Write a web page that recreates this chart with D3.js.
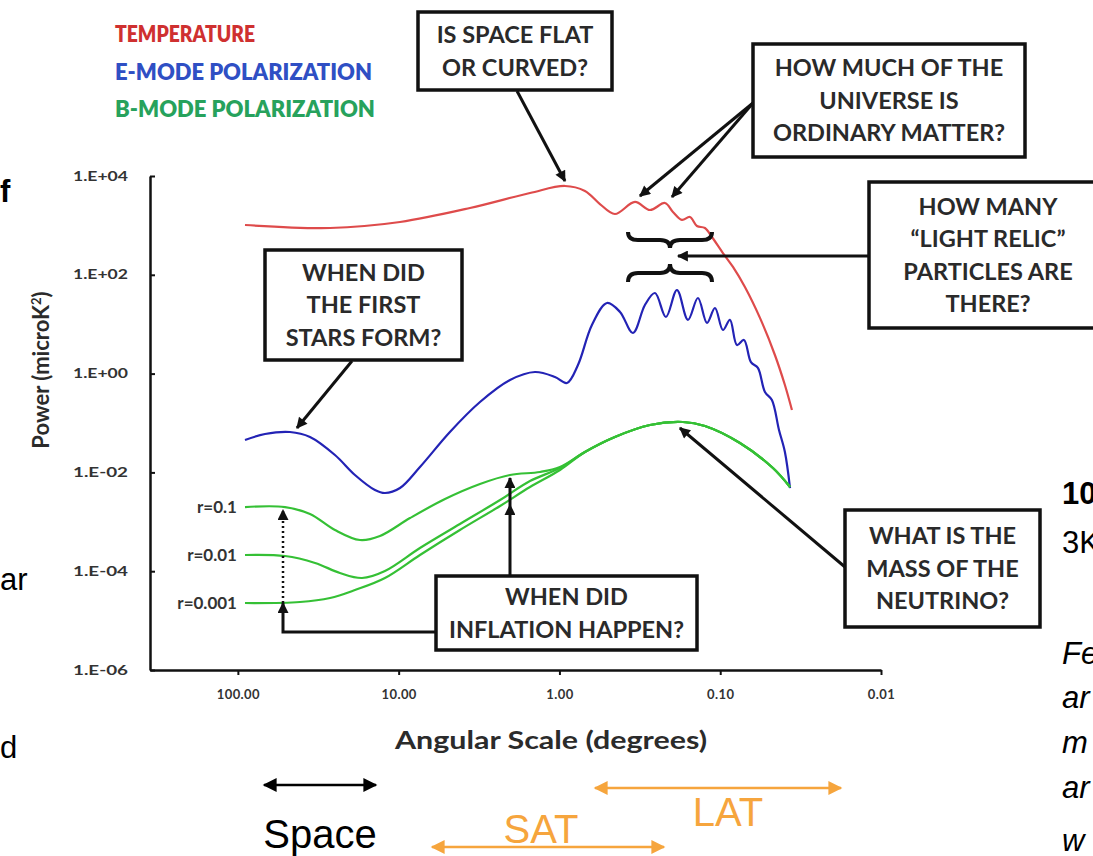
<!doctype html>
<html lang="en">
<head>
<meta charset="utf-8">
<title>CMB power spectrum</title>
<script src="https://cdn.jsdelivr.net/npm/d3@7"></script>
<style>
  body { margin: 0; background: #fff; }
  svg text { font-family: Lato, "Open Sans", sans-serif; }
  .frag { font-family: "Liberation Sans", Arial, sans-serif !important; fill: #000; }
</style>
</head>
<body>
<div id="chart"></div>
<script>
// values are [angular scale (degrees), power (microK^2)]
var temperature = [
  [90.3, 1019], [26.7, 886], [9.81, 1172], [3.60, 2250], [1.525, 4530], [0.924, 6280],
  [0.694, 4970], [0.560, 2710], [0.452, 1700], [0.339, 2980], [0.2735, 2050], [0.2207, 2840],
  [0.1968, 1870], [0.1730, 1290], [0.1543, 1480], [0.1396, 973], [0.1245, 886], [0.1126, 582],
  [0.0962, 276], [0.0833, 144], [0.0702, 56.6], [0.0566, 13.4], [0.0457, 2.38], [0.0396, 0.587],
  [0.0358, 0.183]
];
var eMode = [
  [90.3, 0.0453], [67.8, 0.0599], [47.4, 0.0658], [35.6, 0.0521], [24.9, 0.0225], [18.7, 0.00886],
  [14.04, 0.0044], [12.17, 0.00383], [9.81, 0.00483], [7.37, 0.01286], [4.80, 0.0658], [3.12, 0.266],
  [2.03, 0.742], [1.42, 1.077], [1.066, 0.853], [0.898, 0.645], [0.767, 1.49], [0.628, 9.63],
  [0.506, 26.9], [0.420, 17.7], [0.349, 6.64], [0.294, 24.5], [0.2546, 42.8], [0.2176, 14.0],
  [0.1858, 49.2], [0.1587, 12.2], [0.1376, 33.9], [0.1209, 10.6], [0.1078, 21.3], [0.0962, 7.63],
  [0.0870, 12.2], [0.0787, 3.79], [0.0712, 4.79], [0.0644, 1.7], [0.0583, 1.3], [0.0527, 0.424],
  [0.0477, 0.292], [0.0431, 0.0722], [0.0396, 0.0259], [0.0368, 0.00483]
];
// B-mode curves for three tensor-to-scalar ratios, large angular scales
var bModeR01 = [
  [90.3, 0.00199], [50.9, 0.00199], [35.6, 0.00144], [24.9, 0.000682], [17.4, 0.000428],
  [13.07, 0.000516], [8.50, 0.00119], [5.15, 0.00289], [3.12, 0.00582], [2.03, 0.00886],
  [1.32, 0.0102], [0.992, 0.01286]
];
var bModeR001 = [
  [90.3, 0.000213], [50.9, 0.000203], [33.1, 0.000147], [23.2, 0.000092], [16.9, 0.0000729],
  [12.17, 0.000101], [7.37, 0.000295], [4.16, 0.000903], [2.34, 0.00276], [1.525, 0.0067],
  [0.992, 0.01228]
];
var bModeR0001 = [
  [90.3, 0.0000227], [41.1, 0.0000238], [26.7, 0.0000287], [18.7, 0.0000416], [12.17, 0.0000729],
  [7.37, 0.000213], [4.16, 0.000682], [2.34, 0.00209], [1.525, 0.00506], [0.992, 0.01118]
];
// shared lensing-dominated part at small angular scales
var bModeTail = [
  [0.694, 0.0259], [0.452, 0.0521], [0.2735, 0.0911], [0.1706, 0.1047], [0.1245, 0.087],
  [0.0754, 0.0394], [0.0470, 0.01228], [0.0368, 0.00506]
];
var xTicks = [100, 10, 1, 0.1, 0.01];
var yTicks = [1e4, 1e2, 1, 1e-2, 1e-4, 1e-6];
var legendLabels = ["TEMPERATURE", "E-MODE POLARIZATION", "B-MODE POLARIZATION"];
var legendColors = ["#cf3030", "#2f4fc4", "#27a25c"];
var rLabels = ["r=0.1", "r=0.01", "r=0.001"];

var W = 1093, H = 856;
var svg = d3.select("#chart").append("svg").attr("width", W).attr("height", H);

var x = d3.scaleLog().domain([352, 0.01]).range([150, 881]);
var y = d3.scaleLog().domain([1e-6, 1e4]).range([670, 176]);

// arrowheads
var defs = svg.append("defs");
function marker(id, color, len, wid) {
  defs.append("marker").attr("id", id)
    .attr("viewBox", "0 0 10 10").attr("refX", 9).attr("refY", 5)
    .attr("markerUnits", "userSpaceOnUse")
    .attr("markerWidth", len).attr("markerHeight", wid)
    .attr("orient", "auto-start-reverse")
    .append("path").attr("d", "M0,0L10,5L0,10z").attr("fill", color);
}
marker("ah", "#111", 13, 11);
marker("ahBig", "#000", 16, 14);
marker("ahOr", "#f6a53d", 16, 14);

// axes
var yFmt = function (d) {
  var e = Math.round(Math.log10(d));
  return "1.E" + (e < 0 ? "-" : "+") + String(Math.abs(e)).padStart(2, "0");
};
var yAxis = svg.append("g").attr("transform", "translate(150,0)")
  .call(d3.axisLeft(y).tickValues(yTicks).tickFormat(yFmt).tickSizeInner(-5).tickSizeOuter(0).tickPadding(22));
var xAxis = svg.append("g").attr("transform", "translate(0,670)")
  .call(d3.axisBottom(x).tickValues(xTicks).tickFormat(d3.format(".2f")).tickSizeInner(5).tickSizeOuter(0).tickPadding(17));
[yAxis, xAxis].forEach(function (a) {
  a.select(".domain").attr("stroke", "#111").attr("stroke-width", 2.5);
  a.selectAll(".tick line").attr("stroke", "#111").attr("stroke-width", 2);
  a.selectAll(".tick text").attr("fill", "#333").style("font-size", "13px")
    .style("font-weight", 700);
});
yAxis.selectAll(".tick text").attr("textLength", 55).attr("lengthAdjust", "spacingAndGlyphs");
xAxis.selectAll(".tick text").attr("dy", "0.5em").style("letter-spacing", "0.4px");

svg.append("text").attr("x", 551).attr("y", 749).attr("text-anchor", "middle")
  .attr("fill", "#2b2b2b").style("font-size", "25px").style("font-weight", 700)
  .attr("textLength", 312).attr("lengthAdjust", "spacingAndGlyphs")
  .text("Angular Scale (degrees)");
var yt = svg.append("text").attr("transform", "translate(49,370) rotate(-90)")
  .attr("text-anchor", "middle").attr("fill", "#2b2b2b")
  .style("font-size", "22px").style("font-weight", 700);
yt.append("tspan").text("Power (microK");
yt.append("tspan").attr("dy", -8).style("font-size", "13px").text("2");
yt.append("tspan").attr("dy", 8).text(")");

// curves
var line = d3.line().x(function (d) { return x(d[0]); }).y(function (d) { return y(d[1]); })
  .curve(d3.curveCatmullRom.alpha(0.5));
var curves = [
  { data: temperature, color: "#de4b4b" },
  { data: eMode, color: "#2323b5" },
  { data: bModeR01.concat(bModeTail), color: "#35c035" },
  { data: bModeR001.concat(bModeTail), color: "#35c035" },
  { data: bModeR0001.concat(bModeTail), color: "#35c035" }
];
svg.append("g").selectAll("path").data(curves).join("path")
  .attr("d", function (c) { return line(c.data); })
  .attr("fill", "none").attr("stroke", function (c) { return c.color; })
  .attr("stroke-width", 2.2).attr("stroke-linejoin", "round");

// r labels at the start of each B-mode curve
var rStarts = [bModeR01[0], bModeR001[0], bModeR0001[0]];
svg.append("g").selectAll("text").data(rLabels).join("text")
  .attr("x", x(rStarts[0][0]) - 8)
  .attr("y", function (d, i) { return y(rStarts[i][1]); })
  .attr("dy", "0.35em").attr("text-anchor", "end").attr("fill", "#333")
  .style("font-size", "17px").style("font-weight", 700).text(function (d) { return d; });

// legend
svg.append("g").selectAll("text").data(legendLabels).join("text")
  .attr("x", 115).attr("y", function (d, i) { return 42 + i * 37.5; })
  .attr("fill", function (d, i) { return legendColors[i]; })
  .style("font-size", "22px").style("font-weight", 800)
  .attr("textLength", function (d, i) { return [140, 257, 260][i]; })
  .attr("lengthAdjust", "spacingAndGlyphs")
  .text(function (d) { return d; });

// question boxes
var boxes = [
  { x: 418, y: 12, w: 194, h: 78, lines: ["IS SPACE FLAT", "OR CURVED?"] },
  { x: 753, y: 44, w: 272, h: 113, lines: ["HOW MUCH OF THE", "UNIVERSE IS", "ORDINARY MATTER?"] },
  { x: 869, y: 182, w: 238, h: 146, lines: ["HOW MANY", "\u201CLIGHT RELIC\u201D", "PARTICLES ARE", "THERE?"] },
  { x: 265, y: 250, w: 197, h: 110, lines: ["WHEN DID", "THE FIRST", "STARS FORM?"] },
  { x: 436, y: 576, w: 261, h: 74, lines: ["WHEN DID", "INFLATION HAPPEN?"] },
  { x: 845, y: 510, w: 195, h: 117, lines: ["WHAT IS THE", "MASS OF THE", "NEUTRINO?"] }
];

// arrows: from pixel point on a box to a point given in data units (or pixels)
var arrows = [
  { from: [517, 91], to: [0.924, 7920] },
  { from: [753, 103], to: [0.3157, 3935] },
  { from: [753, 103], to: [0.1996, 3758] },
  { from: [869, 256], toPx: [678, 256] },
  { from: [352, 361], to: [42.9, 0.0792] },
  { from: [845, 567], to: [0.178, 0.0792] },
  { from: [510, 576], to: [2.03, 0.00219] },
  { fromData: [2.03, 0.00219], to: [2.03, 0.0077] }
];
var ag = svg.append("g");
arrows.forEach(function (a) {
  var p0 = a.fromData ? [x(a.fromData[0]), y(a.fromData[1])] : a.from;
  var p1 = a.toPx ? a.toPx : [x(a.to[0]), y(a.to[1])];
  ag.append("line").attr("x1", p0[0]).attr("y1", p0[1]).attr("x2", p1[0]).attr("y2", p1[1])
    .attr("stroke", "#111").attr("stroke-width", 3).attr("marker-end", "url(#ah)");
});
// inflation bracket to the r curves on the left
var bx = x(52.4);
ag.append("path")
  .attr("d", "M436,632H" + bx + "V" + y(2.27e-5))
  .attr("fill", "none").attr("stroke", "#111").attr("stroke-width", 3).attr("marker-end", "url(#ah)");
ag.append("line").attr("x1", bx).attr("y1", y(2.27e-5)).attr("x2", bx).attr("y2", y(0.00173))
  .attr("stroke", "#111").attr("stroke-width", 2.5).attr("stroke-dasharray", "2,3")
  .attr("marker-end", "url(#ah)");

// curly braces around the damping tail
function brace(x0, x1, yEnd, h) {
  var m = (x0 + x1) / 2, q = 10, yf = yEnd + h / 2, yt = yEnd + h;
  return "M" + x0 + "," + yEnd + "Q" + x0 + "," + yf + " " + (x0 + q) + "," + yf +
    "L" + (m - q) + "," + yf + "Q" + m + "," + yf + " " + m + "," + yt +
    "Q" + m + "," + yf + " " + (m + q) + "," + yf +
    "L" + (x1 - q) + "," + yf + "Q" + x1 + "," + yf + " " + x1 + "," + yEnd;
}
svg.append("path").attr("d", brace(628, 712, 232, 16))
  .attr("fill", "none").attr("stroke", "#111").attr("stroke-width", 4);
svg.append("path").attr("d", brace(628, 712, 282, -18))
  .attr("fill", "none").attr("stroke", "#111").attr("stroke-width", 4);

var bg = svg.append("g").selectAll("g").data(boxes).join("g");
bg.append("rect").attr("x", function (b) { return b.x; }).attr("y", function (b) { return b.y; })
  .attr("width", function (b) { return b.w; }).attr("height", function (b) { return b.h; })
  .attr("fill", "#fff").attr("stroke", "#111").attr("stroke-width", 3.5);
bg.each(function (b) {
  var g = d3.select(this), lh = 32.5;
  var top = b.y + b.h / 2 - (b.lines.length - 1) * lh / 2;
  g.selectAll("text").data(b.lines).join("text")
    .attr("x", b.x + b.w / 2).attr("y", function (d, i) { return top + i * lh; })
    .attr("dy", "0.36em").attr("text-anchor", "middle").attr("fill", "#2a2a2a")
    .style("font-size", "23.5px").style("font-weight", 700).text(function (d) { return d; });
});

// telescope angular ranges below the axis
var ranges = [
  { label: "Space", color: "#000", y: 785, x0: 262, x1: 378, tx: 320, ty: 848, mk: "ahBig" },
  { label: "LAT", color: "#f6a53d", y: 788, x0: 593, x1: 843, tx: 728, ty: 826, mk: "ahOr" },
  { label: "SAT", color: "#f6a53d", y: 847, x0: 430, x1: 666, tx: 541, ty: 843, mk: "ahOr" }
];
var rg = svg.append("g");
ranges.forEach(function (r) {
  rg.append("line").attr("x1", r.x0 + 2).attr("y1", r.y).attr("x2", r.x1 - 2).attr("y2", r.y)
    .attr("stroke", r.color).attr("stroke-width", 2.5)
    .attr("marker-start", "url(#" + r.mk + ")").attr("marker-end", "url(#" + r.mk + ")");
  rg.append("text").attr("class", "frag").attr("x", r.tx).attr("y", r.ty)
    .attr("text-anchor", "middle").style("fill", r.color).style("font-size", "40px")
    .text(r.label);
});

// fragments of the surrounding slide text
var frags = [
  { t: "f", x: 0, y: 202, w: 700, it: false },
  { t: "ar", x: 0, y: 590, w: 400, it: false },
  { t: "d", x: 0, y: 758, w: 400, it: false },
  { t: "10", x: 1062, y: 504, w: 700, it: false },
  { t: "3K", x: 1062, y: 553, w: 400, it: false },
  { t: "Fe", x: 1062, y: 664, w: 400, it: true },
  { t: "ar", x: 1062, y: 708, w: 400, it: true },
  { t: "m", x: 1062, y: 753, w: 400, it: true },
  { t: "ar", x: 1062, y: 798, w: 400, it: true },
  { t: "w", x: 1062, y: 851, w: 400, it: true }
];
svg.append("g").selectAll("text").data(frags).join("text").attr("class", "frag")
  .attr("x", function (d) { return d.x; }).attr("y", function (d) { return d.y; })
  .style("font-size", "31px").style("font-weight", function (d) { return d.w; })
  .style("font-style", function (d) { return d.it ? "italic" : "normal"; })
  .text(function (d) { return d.t; });
</script>
</body>
</html>
